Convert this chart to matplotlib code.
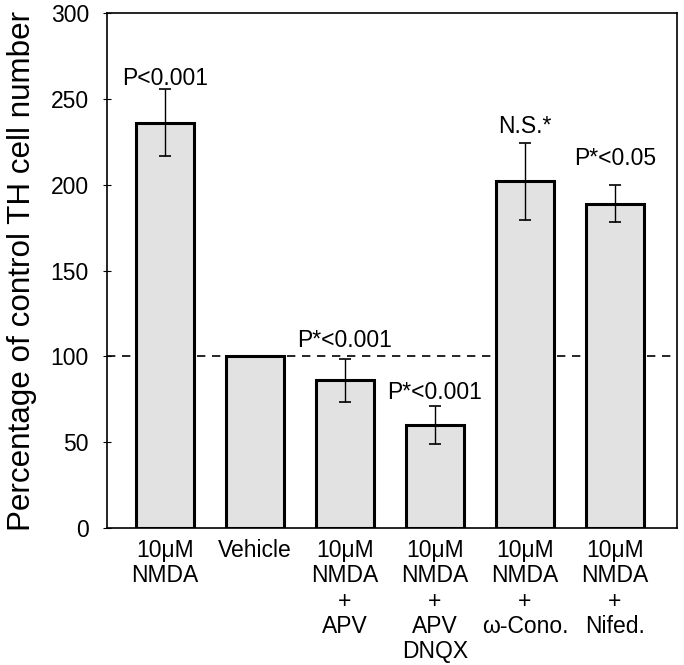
import numpy as np
import matplotlib
matplotlib.use('Agg')
import matplotlib.pyplot as plt

plt.rcParams['font.family'] = ['Liberation Sans', 'DejaVu Sans']

# data
categories = ['10\u03bcM\nNMDA', 'Vehicle', '10\u03bcM\nNMDA\n+\nAPV',
              '10\u03bcM\nNMDA\n+\nAPV\nDNQX', '10\u03bcM\nNMDA\n+\n\u03c9-Cono.',
              '10\u03bcM\nNMDA\n+\nNifed.']
values = [236, 100, 86, 60, 202, 189]
errors = [19.5, 0, 12.5, 11, 22.5, 11]
annotations = ['P<0.001', '', 'P*<0.001', 'P*<0.001', 'N.S.*', 'P*<0.05']
yticks = [0, 50, 100, 150, 200, 250, 300]

fig = plt.figure(figsize=(6.84, 6.65), dpi=100)
ax = fig.add_axes([0.1564, 0.206, 0.8333, 0.7744])

x = np.arange(len(categories))

# reference line at 100% (behind the bars)
ax.axhline(100, color='black', linestyle=(0, (5, 4)), linewidth=1.2, zorder=1)

ax.bar(x, values, width=0.64, color='#e2e2e2', edgecolor='black',
       linewidth=2.2, zorder=2)
err_x = [xi for xi, e in zip(x, errors) if e > 0]
err_v = [v for v, e in zip(values, errors) if e > 0]
err_e = [e for e in errors if e > 0]
ax.errorbar(err_x, err_v, yerr=err_e, fmt='none', ecolor='black',
            elinewidth=1.0, capsize=4, capthick=1.2, zorder=3)

# significance labels
label_y = {0: 262, 2: 109, 3: 79, 4: 234, 5: 215}
for i, txt in enumerate(annotations):
    if txt:
        ax.text(x[i], label_y[i], txt, ha='center', va='center', fontsize=16.5)

ax.set_xlim(-0.644, 5.69)
ax.set_ylim(0, 300)
ax.set_yticks(yticks)
ax.set_xticks(x)
ax.set_xticklabels(categories, fontsize=16.5, linespacing=1.13, va='top')
ax.tick_params(axis='x', length=0, pad=8)
ax.tick_params(axis='y', direction='inout', length=6, labelsize=16.5, pad=10)
for s in ax.spines.values():
    s.set_linewidth(1.2)

ax.set_ylabel('Percentage of control TH cell number', fontsize=22.6, labelpad=10)

fig.savefig('out.png', dpi=100)
